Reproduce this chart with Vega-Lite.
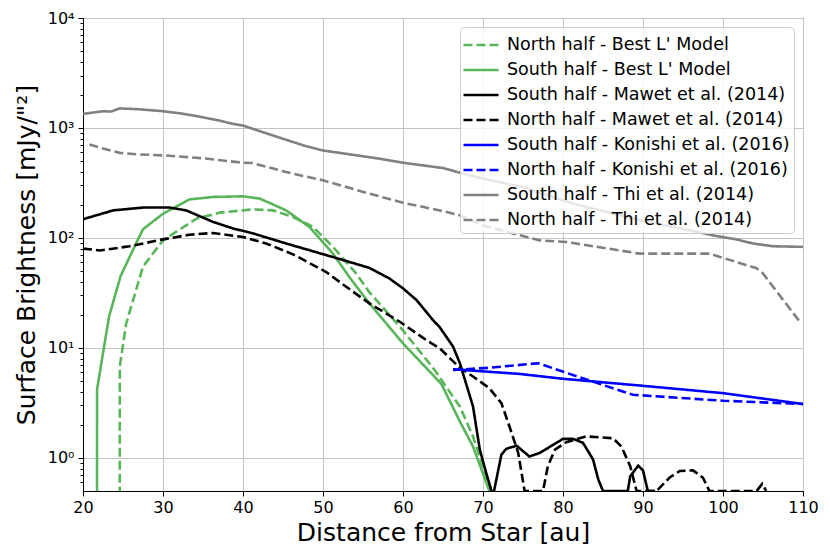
{
  "$schema": "https://vega.github.io/schema/vega-lite/v6.json",
  "autosize": "none",
  "padding": {"left": 83, "top": 18, "right": 27, "bottom": 63},
  "width": 720,
  "height": 473,
  "config": {
    "font": "DejaVu Sans",
    "view": {"stroke": "black", "strokeWidth": 1},
    "axis": {
      "domainColor": "black",
      "tickColor": "black",
      "labelColor": "black",
      "titleColor": "black",
      "labelFontSize": 16,
      "titleFontSize": 25,
      "titleFontWeight": "normal",
      "gridColor": "#c4c4c4",
      "gridWidth": 1
    },
    "legend": {
      "orient": "top-right",
      "offset": 9,
      "padding": 4,
      "fillColor": "rgba(255,255,255,0.8)",
      "strokeColor": "#cccccc",
      "cornerRadius": 4,
      "labelFontSize": 17.5,
      "labelColor": "black",
      "labelOffset": 12,
      "symbolOffset": 3,
      "symbolType": "M-1.4,0H1.4",
      "symbolSize": 625,
      "symbolStrokeWidth": 2.6,
      "rowPadding": 2,
      "labelLimit": 400
    }
  },
  "data": {
    "values": [
      {"s": "North half - Best L' Model", "x": 24.58, "y": 0.01},
      {"s": "North half - Best L' Model", "x": 24.6, "y": 6.8},
      {"s": "North half - Best L' Model", "x": 25.4, "y": 16.7},
      {"s": "North half - Best L' Model", "x": 26.25, "y": 27},
      {"s": "North half - Best L' Model", "x": 27.5, "y": 55},
      {"s": "North half - Best L' Model", "x": 30, "y": 95},
      {"s": "North half - Best L' Model", "x": 34.2, "y": 150},
      {"s": "North half - Best L' Model", "x": 37.1, "y": 170},
      {"s": "North half - Best L' Model", "x": 41.25, "y": 182},
      {"s": "North half - Best L' Model", "x": 43.75, "y": 178},
      {"s": "North half - Best L' Model", "x": 46.25, "y": 155},
      {"s": "North half - Best L' Model", "x": 48.75, "y": 126},
      {"s": "North half - Best L' Model", "x": 51.25, "y": 83},
      {"s": "North half - Best L' Model", "x": 54.2, "y": 47},
      {"s": "North half - Best L' Model", "x": 55.8, "y": 32},
      {"s": "North half - Best L' Model", "x": 59.6, "y": 15.6},
      {"s": "North half - Best L' Model", "x": 63.75, "y": 6.6},
      {"s": "North half - Best L' Model", "x": 67.1, "y": 2.94},
      {"s": "North half - Best L' Model", "x": 68.75, "y": 1.57},
      {"s": "North half - Best L' Model", "x": 71, "y": 0.5},
      {"s": "North half - Best L' Model", "x": 71.3, "y": 0.4},

      {"s": "South half - Best L' Model", "x": 21.74, "y": 0.01},
      {"s": "South half - Best L' Model", "x": 21.76, "y": 4.2},
      {"s": "South half - Best L' Model", "x": 23.25, "y": 19.2},
      {"s": "South half - Best L' Model", "x": 24.7, "y": 45},
      {"s": "South half - Best L' Model", "x": 26.9, "y": 98},
      {"s": "South half - Best L' Model", "x": 27.5, "y": 120},
      {"s": "South half - Best L' Model", "x": 30, "y": 166},
      {"s": "South half - Best L' Model", "x": 33.3, "y": 224},
      {"s": "South half - Best L' Model", "x": 36.25, "y": 236},
      {"s": "South half - Best L' Model", "x": 40, "y": 239},
      {"s": "South half - Best L' Model", "x": 42.1, "y": 228},
      {"s": "South half - Best L' Model", "x": 45.4, "y": 178},
      {"s": "South half - Best L' Model", "x": 48.3, "y": 126},
      {"s": "South half - Best L' Model", "x": 51.25, "y": 72},
      {"s": "South half - Best L' Model", "x": 53.3, "y": 44},
      {"s": "South half - Best L' Model", "x": 55.8, "y": 25.4},
      {"s": "South half - Best L' Model", "x": 60, "y": 11},
      {"s": "South half - Best L' Model", "x": 64.8, "y": 4.7},
      {"s": "South half - Best L' Model", "x": 67.1, "y": 2.15},
      {"s": "South half - Best L' Model", "x": 68.75, "y": 1.27},
      {"s": "South half - Best L' Model", "x": 70.8, "y": 0.5},
      {"s": "South half - Best L' Model", "x": 71, "y": 0.4},

      {"s": "South half - Mawet et al. (2014)", "x": 20, "y": 148},
      {"s": "South half - Mawet et al. (2014)", "x": 23.75, "y": 178},
      {"s": "South half - Mawet et al. (2014)", "x": 27.5, "y": 189},
      {"s": "South half - Mawet et al. (2014)", "x": 30.8, "y": 189},
      {"s": "South half - Mawet et al. (2014)", "x": 32.9, "y": 178},
      {"s": "South half - Mawet et al. (2014)", "x": 36.25, "y": 140},
      {"s": "South half - Mawet et al. (2014)", "x": 38.75, "y": 122},
      {"s": "South half - Mawet et al. (2014)", "x": 41.25, "y": 110},
      {"s": "South half - Mawet et al. (2014)", "x": 45.4, "y": 89},
      {"s": "South half - Mawet et al. (2014)", "x": 51.25, "y": 67},
      {"s": "South half - Mawet et al. (2014)", "x": 55.8, "y": 53.4},
      {"s": "South half - Mawet et al. (2014)", "x": 58.3, "y": 42.8},
      {"s": "South half - Mawet et al. (2014)", "x": 60, "y": 34.8},
      {"s": "South half - Mawet et al. (2014)", "x": 61.7, "y": 27.2},
      {"s": "South half - Mawet et al. (2014)", "x": 63.75, "y": 17.9},
      {"s": "South half - Mawet et al. (2014)", "x": 64.6, "y": 15.4},
      {"s": "South half - Mawet et al. (2014)", "x": 66.25, "y": 10.3},
      {"s": "South half - Mawet et al. (2014)", "x": 67.1, "y": 7.3},
      {"s": "South half - Mawet et al. (2014)", "x": 68.75, "y": 2.94},
      {"s": "South half - Mawet et al. (2014)", "x": 69.6, "y": 1.19},
      {"s": "South half - Mawet et al. (2014)", "x": 70.4, "y": 0.73},
      {"s": "South half - Mawet et al. (2014)", "x": 71.25, "y": 0.45},
      {"s": "South half - Mawet et al. (2014)", "x": 72.3, "y": 1.07},
      {"s": "South half - Mawet et al. (2014)", "x": 72.9, "y": 1.21},
      {"s": "South half - Mawet et al. (2014)", "x": 74.2, "y": 1.29},
      {"s": "South half - Mawet et al. (2014)", "x": 75.8, "y": 1.03},
      {"s": "South half - Mawet et al. (2014)", "x": 77.1, "y": 1.11},
      {"s": "South half - Mawet et al. (2014)", "x": 80, "y": 1.49},
      {"s": "South half - Mawet et al. (2014)", "x": 81.25, "y": 1.49},
      {"s": "South half - Mawet et al. (2014)", "x": 82.5, "y": 1.37},
      {"s": "South half - Mawet et al. (2014)", "x": 83.75, "y": 0.97},
      {"s": "South half - Mawet et al. (2014)", "x": 84.4, "y": 0.64},
      {"s": "South half - Mawet et al. (2014)", "x": 85, "y": 0.5},
      {"s": "South half - Mawet et al. (2014)", "x": 88.1, "y": 0.5},
      {"s": "South half - Mawet et al. (2014)", "x": 88.4, "y": 0.68},
      {"s": "South half - Mawet et al. (2014)", "x": 89.4, "y": 0.85},
      {"s": "South half - Mawet et al. (2014)", "x": 90, "y": 0.77},
      {"s": "South half - Mawet et al. (2014)", "x": 90.6, "y": 0.5},
      {"s": "South half - Mawet et al. (2014)", "x": 91.5, "y": 0.5},

      {"s": "North half - Mawet et al. (2014)", "x": 20, "y": 80},
      {"s": "North half - Mawet et al. (2014)", "x": 22.1, "y": 77},
      {"s": "North half - Mawet et al. (2014)", "x": 25.8, "y": 84},
      {"s": "North half - Mawet et al. (2014)", "x": 30, "y": 97},
      {"s": "North half - Mawet et al. (2014)", "x": 33.3, "y": 107},
      {"s": "North half - Mawet et al. (2014)", "x": 36.25, "y": 111},
      {"s": "North half - Mawet et al. (2014)", "x": 40, "y": 102},
      {"s": "North half - Mawet et al. (2014)", "x": 42.9, "y": 89},
      {"s": "North half - Mawet et al. (2014)", "x": 46.25, "y": 71},
      {"s": "North half - Mawet et al. (2014)", "x": 50.4, "y": 49},
      {"s": "North half - Mawet et al. (2014)", "x": 52.9, "y": 36},
      {"s": "North half - Mawet et al. (2014)", "x": 55.8, "y": 25.4},
      {"s": "North half - Mawet et al. (2014)", "x": 59.6, "y": 17.3},
      {"s": "North half - Mawet et al. (2014)", "x": 62.9, "y": 11.8},
      {"s": "North half - Mawet et al. (2014)", "x": 64.6, "y": 9.9},
      {"s": "North half - Mawet et al. (2014)", "x": 67.1, "y": 6.6},
      {"s": "North half - Mawet et al. (2014)", "x": 68.75, "y": 5.5},
      {"s": "North half - Mawet et al. (2014)", "x": 70.8, "y": 4.3},
      {"s": "North half - Mawet et al. (2014)", "x": 72.3, "y": 3.15},
      {"s": "North half - Mawet et al. (2014)", "x": 73.3, "y": 1.94},
      {"s": "North half - Mawet et al. (2014)", "x": 74.4, "y": 1.11},
      {"s": "North half - Mawet et al. (2014)", "x": 75.2, "y": 0.5},
      {"s": "North half - Mawet et al. (2014)", "x": 77.5, "y": 0.5},
      {"s": "North half - Mawet et al. (2014)", "x": 78.1, "y": 0.84},
      {"s": "North half - Mawet et al. (2014)", "x": 79, "y": 1.19},
      {"s": "North half - Mawet et al. (2014)", "x": 80.4, "y": 1.39},
      {"s": "North half - Mawet et al. (2014)", "x": 82.9, "y": 1.57},
      {"s": "North half - Mawet et al. (2014)", "x": 86.25, "y": 1.51},
      {"s": "North half - Mawet et al. (2014)", "x": 87.3, "y": 1.27},
      {"s": "North half - Mawet et al. (2014)", "x": 88.4, "y": 0.84},
      {"s": "North half - Mawet et al. (2014)", "x": 89.2, "y": 0.5},
      {"s": "North half - Mawet et al. (2014)", "x": 91.7, "y": 0.5},
      {"s": "North half - Mawet et al. (2014)", "x": 93.3, "y": 0.66},
      {"s": "North half - Mawet et al. (2014)", "x": 94.6, "y": 0.76},
      {"s": "North half - Mawet et al. (2014)", "x": 96.25, "y": 0.77},
      {"s": "North half - Mawet et al. (2014)", "x": 97.5, "y": 0.66},
      {"s": "North half - Mawet et al. (2014)", "x": 98.3, "y": 0.5},
      {"s": "North half - Mawet et al. (2014)", "x": 104.2, "y": 0.5},
      {"s": "North half - Mawet et al. (2014)", "x": 104.9, "y": 0.58},
      {"s": "North half - Mawet et al. (2014)", "x": 105.4, "y": 0.5},

      {"s": "South half - Konishi et al. (2016)", "x": 66.25, "y": 6.4},
      {"s": "South half - Konishi et al. (2016)", "x": 74.6, "y": 5.8},
      {"s": "South half - Konishi et al. (2016)", "x": 80, "y": 5.24},
      {"s": "South half - Konishi et al. (2016)", "x": 89.6, "y": 4.55},
      {"s": "South half - Konishi et al. (2016)", "x": 100, "y": 3.88},
      {"s": "South half - Konishi et al. (2016)", "x": 110, "y": 3.09},

      {"s": "North half - Konishi et al. (2016)", "x": 66.25, "y": 6.3},
      {"s": "North half - Konishi et al. (2016)", "x": 70.8, "y": 6.6},
      {"s": "North half - Konishi et al. (2016)", "x": 76.9, "y": 7.26},
      {"s": "North half - Konishi et al. (2016)", "x": 82.1, "y": 5.4},
      {"s": "North half - Konishi et al. (2016)", "x": 88.75, "y": 3.75},
      {"s": "North half - Konishi et al. (2016)", "x": 100, "y": 3.31},
      {"s": "North half - Konishi et al. (2016)", "x": 110, "y": 3.09},

      {"s": "South half - Thi et al. (2014)", "x": 20, "y": 1343},
      {"s": "South half - Thi et al. (2014)", "x": 22.5, "y": 1420},
      {"s": "South half - Thi et al. (2014)", "x": 23.5, "y": 1410},
      {"s": "South half - Thi et al. (2014)", "x": 24.6, "y": 1507},
      {"s": "South half - Thi et al. (2014)", "x": 27, "y": 1480},
      {"s": "South half - Thi et al. (2014)", "x": 30, "y": 1420},
      {"s": "South half - Thi et al. (2014)", "x": 32.1, "y": 1360},
      {"s": "South half - Thi et al. (2014)", "x": 34, "y": 1290},
      {"s": "South half - Thi et al. (2014)", "x": 36.7, "y": 1183},
      {"s": "South half - Thi et al. (2014)", "x": 38.75, "y": 1090},
      {"s": "South half - Thi et al. (2014)", "x": 40, "y": 1052},
      {"s": "South half - Thi et al. (2014)", "x": 42.9, "y": 895},
      {"s": "South half - Thi et al. (2014)", "x": 45.4, "y": 780},
      {"s": "South half - Thi et al. (2014)", "x": 47.9, "y": 682},
      {"s": "South half - Thi et al. (2014)", "x": 50, "y": 624},
      {"s": "South half - Thi et al. (2014)", "x": 52.9, "y": 582},
      {"s": "South half - Thi et al. (2014)", "x": 57.1, "y": 525},
      {"s": "South half - Thi et al. (2014)", "x": 60, "y": 483},
      {"s": "South half - Thi et al. (2014)", "x": 65, "y": 432},
      {"s": "South half - Thi et al. (2014)", "x": 69.2, "y": 357},
      {"s": "South half - Thi et al. (2014)", "x": 75, "y": 290},
      {"s": "South half - Thi et al. (2014)", "x": 81.25, "y": 205},
      {"s": "South half - Thi et al. (2014)", "x": 89.6, "y": 145},
      {"s": "South half - Thi et al. (2014)", "x": 93.75, "y": 126},
      {"s": "South half - Thi et al. (2014)", "x": 99.2, "y": 104},
      {"s": "South half - Thi et al. (2014)", "x": 101.7, "y": 97},
      {"s": "South half - Thi et al. (2014)", "x": 103.75, "y": 89},
      {"s": "South half - Thi et al. (2014)", "x": 106.25, "y": 84},
      {"s": "South half - Thi et al. (2014)", "x": 110, "y": 83},

      {"s": "North half - Thi et al. (2014)", "x": 20.8, "y": 707},
      {"s": "North half - Thi et al. (2014)", "x": 22.5, "y": 650},
      {"s": "North half - Thi et al. (2014)", "x": 24.6, "y": 594},
      {"s": "North half - Thi et al. (2014)", "x": 27, "y": 575},
      {"s": "North half - Thi et al. (2014)", "x": 30.4, "y": 562},
      {"s": "North half - Thi et al. (2014)", "x": 35, "y": 530},
      {"s": "North half - Thi et al. (2014)", "x": 40, "y": 483},
      {"s": "North half - Thi et al. (2014)", "x": 41.2, "y": 480},
      {"s": "North half - Thi et al. (2014)", "x": 45.4, "y": 397},
      {"s": "North half - Thi et al. (2014)", "x": 50, "y": 334},
      {"s": "North half - Thi et al. (2014)", "x": 55.8, "y": 253},
      {"s": "North half - Thi et al. (2014)", "x": 60, "y": 209},
      {"s": "North half - Thi et al. (2014)", "x": 64.6, "y": 178},
      {"s": "North half - Thi et al. (2014)", "x": 67.1, "y": 161},
      {"s": "North half - Thi et al. (2014)", "x": 70, "y": 130},
      {"s": "North half - Thi et al. (2014)", "x": 75, "y": 104},
      {"s": "North half - Thi et al. (2014)", "x": 77.1, "y": 95},
      {"s": "North half - Thi et al. (2014)", "x": 80.4, "y": 92},
      {"s": "North half - Thi et al. (2014)", "x": 89.6, "y": 72},
      {"s": "North half - Thi et al. (2014)", "x": 98.3, "y": 72},
      {"s": "North half - Thi et al. (2014)", "x": 104.2, "y": 53},
      {"s": "North half - Thi et al. (2014)", "x": 105, "y": 47.5},
      {"s": "North half - Thi et al. (2014)", "x": 109.6, "y": 17.3}
    ]
  },
  "mark": {"type": "line", "clip": true, "strokeWidth": 2.6},
  "encoding": {
    "x": {
      "field": "x",
      "type": "quantitative",
      "title": "Distance from Star [au]",
      "scale": {"domain": [20, 110], "nice": false, "zero": false},
      "axis": {
        "values": [20, 30, 40, 50, 60, 70, 80, 90, 100, 110],
        "tickSize": 5,
        "labelPadding": 3,
        "titlePadding": 5,
        "labelFlush": false
      }
    },
    "y": {
      "field": "y",
      "type": "quantitative",
      "title": "Surface Brightness [mJy/\"²]",
      "scale": {"type": "log", "domain": [0.5, 10000], "nice": false},
      "axis": {
        "values": [0.6, 0.7, 0.8, 0.9, 1, 2, 3, 4, 5, 6, 7, 8, 9, 10, 20, 30, 40, 50, 60, 70, 80, 90, 100, 200, 300, 400, 500, 600, 700, 800, 900, 1000, 2000, 3000, 4000, 5000, 6000, 7000, 8000, 9000, 10000],
        "labelExpr": "datum.value == 1 ? '10⁰' : datum.value == 10 ? '10¹' : datum.value == 100 ? '10²' : datum.value == 1000 ? '10³' : datum.value == 10000 ? '10⁴' : ''",
        "tickSize": {"condition": {"test": "datum.value == 1 || datum.value == 10 || datum.value == 100 || datum.value == 1000 || datum.value == 10000", "value": 5}, "value": 3},
        "gridOpacity": {"condition": {"test": "datum.value == 1 || datum.value == 10 || datum.value == 100 || datum.value == 1000 || datum.value == 10000", "value": 1}, "value": 0},
        "labelPadding": 4,
        "titlePadding": 8
      }
    },
    "color": {
      "field": "s",
      "type": "nominal",
      "title": null,
      "sort": null,
      "scale": {
        "domain": ["North half - Best L' Model", "South half - Best L' Model", "South half - Mawet et al. (2014)", "North half - Mawet et al. (2014)", "South half - Konishi et al. (2016)", "North half - Konishi et al. (2016)", "South half - Thi et al. (2014)", "North half - Thi et al. (2014)"],
        "range": ["#59b55a", "#59b55a", "#000000", "#000000", "#0000ff", "#0000ff", "#808080", "#808080"]
      }
    },
    "strokeDash": {
      "field": "s",
      "type": "nominal",
      "title": null,
      "sort": null,
      "scale": {
        "domain": ["North half - Best L' Model", "South half - Best L' Model", "South half - Mawet et al. (2014)", "North half - Mawet et al. (2014)", "South half - Konishi et al. (2016)", "North half - Konishi et al. (2016)", "South half - Thi et al. (2014)", "North half - Thi et al. (2014)"],
        "range": [[9, 4], [1, 0], [1, 0], [9, 4], [1, 0], [9, 4], [1, 0], [9, 4]]
      }
    }
  }
}
